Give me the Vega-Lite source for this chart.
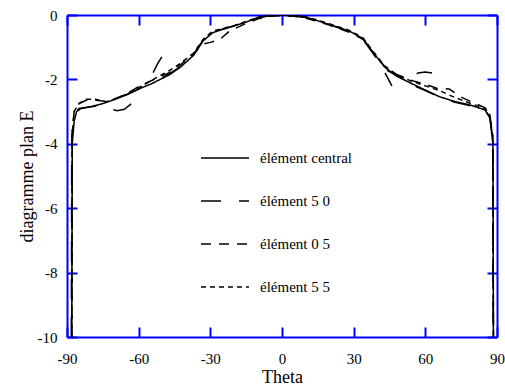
{
  "$schema": "https://vega.github.io/schema/vega-lite/v6.json",
  "width": 430,
  "height": 322,
  "autosize": {"type": "none"},
  "padding": {"left": 67, "top": 15, "right": 8, "bottom": 55},
  "background": "white",
  "config": {"view": {"stroke": null}, "font": "Liberation Serif",
    "axis": {"labelFont": "Liberation Serif", "titleFont": "Liberation Serif"},
    "legend": {"labelFont": "Liberation Serif"}},
  "data": {"values": [
    {"s":"élément central","g":"c","x":-88.0,"y":-10},
    {"s":"élément central","g":"c","x":-87.8,"y":-4.0},
    {"s":"élément central","g":"c","x":-87,"y":-3.3},
    {"s":"élément central","g":"c","x":-86,"y":-3.0},
    {"s":"élément central","g":"c","x":-84,"y":-2.9},
    {"s":"élément central","g":"c","x":-80,"y":-2.85},
    {"s":"élément central","g":"c","x":-75,"y":-2.75},
    {"s":"élément central","g":"c","x":-70,"y":-2.62},
    {"s":"élément central","g":"c","x":-65,"y":-2.48},
    {"s":"élément central","g":"c","x":-60,"y":-2.3},
    {"s":"élément central","g":"c","x":-55,"y":-2.15},
    {"s":"élément central","g":"c","x":-51,"y":-2.0},
    {"s":"élément central","g":"c","x":-47,"y":-1.85},
    {"s":"élément central","g":"c","x":-42.5,"y":-1.62},
    {"s":"élément central","g":"c","x":-37,"y":-1.25},
    {"s":"élément central","g":"c","x":-33,"y":-0.8},
    {"s":"élément central","g":"c","x":-29,"y":-0.55},
    {"s":"élément central","g":"c","x":-25,"y":-0.45},
    {"s":"élément central","g":"c","x":-20,"y":-0.34},
    {"s":"élément central","g":"c","x":-15,"y":-0.22},
    {"s":"élément central","g":"c","x":-10,"y":-0.08},
    {"s":"élément central","g":"c","x":-5,"y":-0.02},
    {"s":"élément central","g":"c","x":0,"y":0},
    {"s":"élément central","g":"c","x":5,"y":-0.02},
    {"s":"élément central","g":"c","x":10,"y":-0.07},
    {"s":"élément central","g":"c","x":15,"y":-0.18},
    {"s":"élément central","g":"c","x":20,"y":-0.3},
    {"s":"élément central","g":"c","x":25,"y":-0.42},
    {"s":"élément central","g":"c","x":29,"y":-0.53},
    {"s":"élément central","g":"c","x":34,"y":-0.74},
    {"s":"élément central","g":"c","x":38,"y":-1.15},
    {"s":"élément central","g":"c","x":43,"y":-1.62},
    {"s":"élément central","g":"c","x":48,"y":-1.9},
    {"s":"élément central","g":"c","x":54,"y":-2.12},
    {"s":"élément central","g":"c","x":60,"y":-2.33},
    {"s":"élément central","g":"c","x":66,"y":-2.54},
    {"s":"élément central","g":"c","x":72,"y":-2.68},
    {"s":"élément central","g":"c","x":79,"y":-2.8},
    {"s":"élément central","g":"c","x":85,"y":-2.95},
    {"s":"élément central","g":"c","x":87,"y":-3.2},
    {"s":"élément central","g":"c","x":88.3,"y":-4.0},
    {"s":"élément central","g":"c","x":88.5,"y":-10},

    {"s":"élément 5 0","g":"50a","x":-88.2,"y":-10},
    {"s":"élément 5 0","g":"50a","x":-88,"y":-3.8},
    {"s":"élément 5 0","g":"50a","x":-87,"y":-3.1},
    {"s":"élément 5 0","g":"50a","x":-85,"y":-2.9},
    {"s":"élément 5 0","g":"50a","x":-80,"y":-2.85},
    {"s":"élément 5 0","g":"50a","x":-75,"y":-2.8},
    {"s":"élément 5 0","g":"50a","x":-72,"y":-2.92},
    {"s":"élément 5 0","g":"50a","x":-69,"y":-2.97},
    {"s":"élément 5 0","g":"50a","x":-66,"y":-2.93},
    {"s":"élément 5 0","g":"50a","x":-63,"y":-2.75},
    {"s":"élément 5 0","g":"50b","x":-66,"y":-2.5},
    {"s":"élément 5 0","g":"50b","x":-60,"y":-2.3},
    {"s":"élément 5 0","g":"50b","x":-57,"y":-2.15},
    {"s":"élément 5 0","g":"50b","x":-54,"y":-1.8},
    {"s":"élément 5 0","g":"50b","x":-52,"y":-1.5},
    {"s":"élément 5 0","g":"50b","x":-50.3,"y":-1.3},
    {"s":"élément 5 0","g":"50c","x":-50,"y":-1.95},
    {"s":"élément 5 0","g":"50c","x":-47,"y":-1.82},
    {"s":"élément 5 0","g":"50c","x":-42.5,"y":-1.6},
    {"s":"élément 5 0","g":"50c","x":-37,"y":-1.22},
    {"s":"élément 5 0","g":"50c","x":-33,"y":-0.78},
    {"s":"élément 5 0","g":"50c","x":-29,"y":-0.53},
    {"s":"élément 5 0","g":"50c","x":-25,"y":-0.44},
    {"s":"élément 5 0","g":"50c","x":-20,"y":-0.33},
    {"s":"élément 5 0","g":"50c","x":-15,"y":-0.21},
    {"s":"élément 5 0","g":"50c","x":-10,"y":-0.08},
    {"s":"élément 5 0","g":"50c","x":-5,"y":-0.02},
    {"s":"élément 5 0","g":"50c","x":0,"y":0},
    {"s":"élément 5 0","g":"50c","x":5,"y":-0.03},
    {"s":"élément 5 0","g":"50c","x":10,"y":-0.08},
    {"s":"élément 5 0","g":"50c","x":15,"y":-0.19},
    {"s":"élément 5 0","g":"50c","x":20,"y":-0.31},
    {"s":"élément 5 0","g":"50c","x":25,"y":-0.43},
    {"s":"élément 5 0","g":"50c","x":29,"y":-0.55},
    {"s":"élément 5 0","g":"50c","x":34,"y":-0.77},
    {"s":"élément 5 0","g":"50c","x":38,"y":-1.18},
    {"s":"élément 5 0","g":"50c","x":41,"y":-1.5},
    {"s":"élément 5 0","g":"50c","x":43.5,"y":-1.85},
    {"s":"élément 5 0","g":"50c","x":46,"y":-2.2},
    {"s":"élément 5 0","g":"50d","x":44,"y":-1.72},
    {"s":"élément 5 0","g":"50d","x":48,"y":-1.88},
    {"s":"élément 5 0","g":"50d","x":51,"y":-2.0},
    {"s":"élément 5 0","g":"50d","x":53.5,"y":-2.12},
    {"s":"élément 5 0","g":"50d","x":55,"y":-1.9},
    {"s":"élément 5 0","g":"50d","x":57,"y":-1.8},
    {"s":"élément 5 0","g":"50d","x":60,"y":-1.77},
    {"s":"élément 5 0","g":"50d","x":62.8,"y":-1.8},
    {"s":"élément 5 0","g":"50e","x":56,"y":-2.22},
    {"s":"élément 5 0","g":"50e","x":60,"y":-2.35},
    {"s":"élément 5 0","g":"50e","x":66,"y":-2.55},
    {"s":"élément 5 0","g":"50e","x":72,"y":-2.7},
    {"s":"élément 5 0","g":"50e","x":79,"y":-2.82},
    {"s":"élément 5 0","g":"50e","x":85,"y":-2.97},
    {"s":"élément 5 0","g":"50e","x":87,"y":-3.15},
    {"s":"élément 5 0","g":"50e","x":88.2,"y":-3.8},
    {"s":"élément 5 0","g":"50e","x":88.4,"y":-10},

    {"s":"élément 0 5","g":"05","x":-88,"y":-10},
    {"s":"élément 0 5","g":"05","x":-87.8,"y":-3.6},
    {"s":"élément 0 5","g":"05","x":-87,"y":-3.0},
    {"s":"élément 0 5","g":"05","x":-85,"y":-2.75},
    {"s":"élément 0 5","g":"05","x":-82,"y":-2.65},
    {"s":"élément 0 5","g":"05","x":-78,"y":-2.65},
    {"s":"élément 0 5","g":"05","x":-74,"y":-2.68},
    {"s":"élément 0 5","g":"05","x":-70,"y":-2.6},
    {"s":"élément 0 5","g":"05","x":-65,"y":-2.45},
    {"s":"élément 0 5","g":"05","x":-60,"y":-2.22},
    {"s":"élément 0 5","g":"05","x":-55,"y":-2.05},
    {"s":"élément 0 5","g":"05","x":-51,"y":-1.92},
    {"s":"élément 0 5","g":"05","x":-47,"y":-1.78},
    {"s":"élément 0 5","g":"05","x":-42.5,"y":-1.55},
    {"s":"élément 0 5","g":"05","x":-37,"y":-1.2},
    {"s":"élément 0 5","g":"05","x":-33,"y":-0.9},
    {"s":"élément 0 5","g":"05","x":-30,"y":-0.85},
    {"s":"élément 0 5","g":"05","x":-26,"y":-0.76},
    {"s":"élément 0 5","g":"05","x":-22,"y":-0.5},
    {"s":"élément 0 5","g":"05","x":-15,"y":-0.26},
    {"s":"élément 0 5","g":"05","x":-10,"y":-0.12},
    {"s":"élément 0 5","g":"05","x":-5,"y":-0.04},
    {"s":"élément 0 5","g":"05","x":0,"y":-0.02},
    {"s":"élément 0 5","g":"05","x":5,"y":-0.04},
    {"s":"élément 0 5","g":"05","x":10,"y":-0.1},
    {"s":"élément 0 5","g":"05","x":15,"y":-0.2},
    {"s":"élément 0 5","g":"05","x":20,"y":-0.32},
    {"s":"élément 0 5","g":"05","x":25,"y":-0.45},
    {"s":"élément 0 5","g":"05","x":29,"y":-0.56},
    {"s":"élément 0 5","g":"05","x":34,"y":-0.76},
    {"s":"élément 0 5","g":"05","x":38,"y":-1.15},
    {"s":"élément 0 5","g":"05","x":43,"y":-1.6},
    {"s":"élément 0 5","g":"05","x":48,"y":-1.85},
    {"s":"élément 0 5","g":"05","x":51,"y":-1.93},
    {"s":"élément 0 5","g":"05","x":55,"y":-2.05},
    {"s":"élément 0 5","g":"05","x":60,"y":-2.15},
    {"s":"élément 0 5","g":"05","x":65,"y":-2.28},
    {"s":"élément 0 5","g":"05","x":70,"y":-2.3},
    {"s":"élément 0 5","g":"05","x":75,"y":-2.55},
    {"s":"élément 0 5","g":"05","x":80,"y":-2.72},
    {"s":"élément 0 5","g":"05","x":85,"y":-2.88},
    {"s":"élément 0 5","g":"05","x":87,"y":-3.1},
    {"s":"élément 0 5","g":"05","x":88.3,"y":-3.8},
    {"s":"élément 0 5","g":"05","x":88.5,"y":-10},

    {"s":"élément 5 5","g":"55","x":-88,"y":-10},
    {"s":"élément 5 5","g":"55","x":-87.8,"y":-3.7},
    {"s":"élément 5 5","g":"55","x":-87,"y":-3.0},
    {"s":"élément 5 5","g":"55","x":-85,"y":-2.75},
    {"s":"élément 5 5","g":"55","x":-82,"y":-2.62},
    {"s":"élément 5 5","g":"55","x":-78,"y":-2.62},
    {"s":"élément 5 5","g":"55","x":-74,"y":-2.7},
    {"s":"élément 5 5","g":"55","x":-70,"y":-2.62},
    {"s":"élément 5 5","g":"55","x":-65,"y":-2.45},
    {"s":"élément 5 5","g":"55","x":-60,"y":-2.25},
    {"s":"élément 5 5","g":"55","x":-55,"y":-2.05},
    {"s":"élément 5 5","g":"55","x":-51,"y":-1.88},
    {"s":"élément 5 5","g":"55","x":-47,"y":-1.72},
    {"s":"élément 5 5","g":"55","x":-42.5,"y":-1.5},
    {"s":"élément 5 5","g":"55","x":-37,"y":-1.18},
    {"s":"élément 5 5","g":"55","x":-33,"y":-0.75},
    {"s":"élément 5 5","g":"55","x":-29,"y":-0.5},
    {"s":"élément 5 5","g":"55","x":-25,"y":-0.42},
    {"s":"élément 5 5","g":"55","x":-20,"y":-0.33},
    {"s":"élément 5 5","g":"55","x":-15,"y":-0.2},
    {"s":"élément 5 5","g":"55","x":-10,"y":-0.07},
    {"s":"élément 5 5","g":"55","x":-5,"y":-0.02},
    {"s":"élément 5 5","g":"55","x":0,"y":0},
    {"s":"élément 5 5","g":"55","x":5,"y":-0.02},
    {"s":"élément 5 5","g":"55","x":10,"y":-0.06},
    {"s":"élément 5 5","g":"55","x":15,"y":-0.16},
    {"s":"élément 5 5","g":"55","x":20,"y":-0.28},
    {"s":"élément 5 5","g":"55","x":25,"y":-0.4},
    {"s":"élément 5 5","g":"55","x":29,"y":-0.5},
    {"s":"élément 5 5","g":"55","x":34,"y":-0.72},
    {"s":"élément 5 5","g":"55","x":38,"y":-1.12},
    {"s":"élément 5 5","g":"55","x":43,"y":-1.58},
    {"s":"élément 5 5","g":"55","x":48,"y":-1.85},
    {"s":"élément 5 5","g":"55","x":54,"y":-2.05},
    {"s":"élément 5 5","g":"55","x":60,"y":-2.2},
    {"s":"élément 5 5","g":"55","x":66,"y":-2.35},
    {"s":"élément 5 5","g":"55","x":72,"y":-2.55},
    {"s":"élément 5 5","g":"55","x":79,"y":-2.75},
    {"s":"élément 5 5","g":"55","x":85,"y":-2.9},
    {"s":"élément 5 5","g":"55","x":87,"y":-3.1},
    {"s":"élément 5 5","g":"55","x":88.3,"y":-3.8},
    {"s":"élément 5 5","g":"55","x":88.5,"y":-10}
  ]},
  "layer": [
    {
      "mark": {"type": "line", "color": "black", "strokeWidth": 1.5, "clip": true},
      "encoding": {
        "x": {"field": "x", "type": "quantitative", "scale": {"domain": [-90, 90], "nice": false, "zero": false},
          "axis": {"orient": "bottom", "values": [-90,-60,-30,0,30,60,90], "labelExpr": "datum.value + ''", "grid": false, "domain": true, "domainColor": "#0000ff", "domainWidth": 2, "tickColor": "#0000ff", "tickWidth": 2, "tickSize": -10, "labelPadding": 24, "labelFont": "Liberation Serif", "labelFontSize": 15, "labelColor": "black", "title": "Theta", "titleFont": "Liberation Serif", "titleFontSize": 18, "titleFontWeight": "normal", "titleColor": "black", "titlePadding": 2, "labelFlush": false}},
        "y": {"field": "y", "type": "quantitative", "scale": {"domain": [-10, 0], "nice": false, "zero": false},
          "axis": {"orient": "left", "values": [-10,-8,-6,-4,-2,0], "labelExpr": "datum.value + ''", "grid": false, "domain": true, "domainColor": "#0000ff", "domainWidth": 2, "tickColor": "#0000ff", "tickWidth": 2, "tickSize": -10, "labelPadding": 20, "labelFont": "Liberation Serif", "labelFontSize": 15, "labelColor": "black", "title": "diagramme plan E", "titleFont": "Liberation Serif", "titleFontSize": 18, "titleFontWeight": "normal", "titleColor": "black", "titlePadding": 1, "labelFlush": false}},
        "strokeDash": {"field": "s", "type": "nominal",
          "scale": {"domain": ["élément central", "élément 5 0", "élément 0 5", "élément 5 5"], "range": [[1, 0], [20, 18], [10, 8], [5, 4]]},
          "legend": {"orient": "none", "legendX": 133, "legendY": 118, "title": null, "symbolType": "stroke", "symbolSize": 2304, "symbolStrokeWidth": 1.5, "symbolStrokeColor": "black", "labelFont": "Liberation Serif", "labelFontSize": 15, "labelColor": "black", "labelOffset": 10, "rowPadding": 10}},
        "detail": {"field": "g", "type": "nominal"}
      }
    },
    {
      "mark": {"type": "line", "opacity": 0},
      "encoding": {
        "x": {"field": "x", "type": "quantitative",
          "axis": {"orient": "top", "values": [-90,-60,-30,0,30,60,90], "grid": false, "labels": false, "title": null, "domainColor": "#0000ff", "domainWidth": 2, "tickColor": "#0000ff", "tickWidth": 2, "tickSize": -10}},
        "y": {"field": "y", "type": "quantitative",
          "axis": {"orient": "right", "values": [-10,-8,-6,-4,-2,0], "grid": false, "labels": false, "title": null, "domainColor": "#0000ff", "domainWidth": 2, "tickColor": "#0000ff", "tickWidth": 2, "tickSize": -10}},
        "detail": {"field": "g", "type": "nominal"}
      }
    }
  ],
  "resolve": {"axis": {"x": "independent", "y": "independent"}}
}
